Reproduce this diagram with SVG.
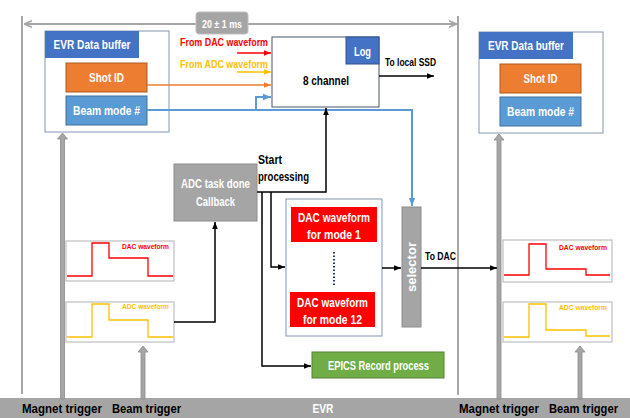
<svg xmlns="http://www.w3.org/2000/svg" width="630" height="418" viewBox="0 0 630 418">
<defs>
<style>
text{font-family:"Liberation Sans",Arial,sans-serif;font-weight:bold}
.w{fill:#fff;font-size:12px}
.k{fill:#000;font-size:12px}
.sm{font-size:7px}
.bl{fill:#4472c4}
.or{fill:#ed7d31;stroke:#ae5a21;stroke-width:1}
.lb{fill:#5b9bd5;stroke:#41719c;stroke-width:1}
.gr{fill:#a5a5a5;stroke:#8c8c8c;stroke-width:1}
.frame{fill:#fff;stroke:#8497b0;stroke-width:1}
.wf{fill:#fff;stroke:#bfbfbf;stroke-width:1.2}
.c{fill:none;stroke-width:1.5}
</style>
<marker id="mk" viewBox="0 0 10 10" refX="10" refY="5" markerWidth="7" markerHeight="7" markerUnits="userSpaceOnUse" orient="auto"><path d="M0,1 L10,5 L0,9 z" fill="#000"/></marker>
<marker id="mb" viewBox="0 0 10 10" refX="10" refY="5" markerWidth="8" markerHeight="8" markerUnits="userSpaceOnUse" orient="auto"><path d="M0,1 L10,5 L0,9 z" fill="#5b9bd5"/></marker>
<marker id="mr" viewBox="0 0 10 10" refX="10" refY="5" markerWidth="7" markerHeight="7" markerUnits="userSpaceOnUse" orient="auto"><path d="M0,1 L10,5 L0,9 z" fill="#ff0000"/></marker>
<marker id="my" viewBox="0 0 10 10" refX="10" refY="5" markerWidth="7" markerHeight="7" markerUnits="userSpaceOnUse" orient="auto"><path d="M0,1 L10,5 L0,9 z" fill="#ffc000"/></marker>
<marker id="mo" viewBox="0 0 10 10" refX="10" refY="5" markerWidth="7" markerHeight="7" markerUnits="userSpaceOnUse" orient="auto"><path d="M0,1 L10,5 L0,9 z" fill="#ed7d31"/></marker>
<marker id="mg" viewBox="0 0 10 10" refX="10" refY="5" markerWidth="8" markerHeight="8" markerUnits="userSpaceOnUse" orient="auto"><path d="M0,1 L10,5 L0,9" fill="none" stroke="#a6a6a6" stroke-width="2"/></marker>
</defs>
<rect width="630" height="418" fill="#fff"/>

<!-- frame lines -->
<g id="timeline">
<line x1="22" y1="16" x2="22" y2="394" stroke="#a6a6a6" stroke-width="2"/>
<line x1="458" y1="16" x2="458" y2="395" stroke="#a6a6a6" stroke-width="2"/>
<line x1="196" y1="24" x2="24" y2="24" stroke="#a6a6a6" stroke-width="2" marker-end="url(#mg)"/>
<line x1="248" y1="24" x2="457" y2="24" stroke="#a6a6a6" stroke-width="2" marker-end="url(#mg)"/>
</g>
<g id="period">
<rect x="196" y="12" width="52" height="22" rx="3" fill="#a5a5a5" stroke="#bfbfbf"/>
<text class="w" x="222" y="27.5" text-anchor="middle" textLength="40" lengthAdjust="spacingAndGlyphs" style="font-size:11px">20 ± 1 ms</text>
</g>

<!-- EVR bar -->
<g id="evr">
<rect x="0" y="398" width="630" height="20" fill="#a5a5a5"/>
<text class="w" x="323" y="413" text-anchor="middle" textLength="21" lengthAdjust="spacingAndGlyphs" style="font-size:12px">EVR</text>
<text class="k" x="22" y="413" textLength="80" lengthAdjust="spacingAndGlyphs">Magnet trigger</text>
<text class="k" x="112" y="413" textLength="69" lengthAdjust="spacingAndGlyphs">Beam trigger</text>
<text class="k" x="459" y="413" textLength="80" lengthAdjust="spacingAndGlyphs">Magnet trigger</text>
<text class="k" x="549" y="413" textLength="69" lengthAdjust="spacingAndGlyphs">Beam trigger</text>
</g>

<!-- trigger arrows -->
<g id="triggers" fill="#a6a6a6" stroke="#8c8c8c" stroke-width="0.8">
<path d="M60.5,399 V139 H57.5 L62.5,133 L67.5,139 H64.5 V399 z"/>
<path d="M141,399 V352 H138 L143,346 L148,352 H145 V399 z"/>
<path d="M497,399 V140 H494 L499,134 L504,140 H501 V399 z"/>
<path d="M578,399 V352 H575 L580,346 L585,352 H582 V399 z"/>
</g>

<!-- left EVR buffer -->
<g id="evr-buffer-left">
<rect class="frame" x="45" y="31" width="124" height="101"/>
<rect class="bl" x="45" y="31" width="94" height="27"/>
<text class="w" x="92" y="49" text-anchor="middle" textLength="77" lengthAdjust="spacingAndGlyphs">EVR Data buffer</text>
</g>
<g id="shot-id-left">
<rect class="or" x="66" y="63" width="81" height="29"/>
<text class="w" x="106.5" y="82" text-anchor="middle" textLength="35" lengthAdjust="spacingAndGlyphs">Shot ID</text>
</g>
<g id="beam-mode-left">
<rect class="lb" x="66" y="96" width="81" height="29"/>
<text class="w" x="106.5" y="115" text-anchor="middle" textLength="67" lengthAdjust="spacingAndGlyphs">Beam mode #</text>
</g>

<!-- right EVR buffer -->
<g id="evr-buffer-right">
<rect class="frame" x="479" y="32" width="124" height="101"/>
<rect class="bl" x="479" y="32" width="94" height="27"/>
<text class="w" x="526" y="50" text-anchor="middle" textLength="76" lengthAdjust="spacingAndGlyphs">EVR Data buffer</text>
</g>
<g id="shot-id-right">
<rect class="or" x="500" y="64" width="81" height="29"/>
<text class="w" x="540.5" y="83" text-anchor="middle" textLength="34" lengthAdjust="spacingAndGlyphs">Shot ID</text>
</g>
<g id="beam-mode-right">
<rect class="lb" x="500" y="97" width="81" height="29"/>
<text class="w" x="540.5" y="116" text-anchor="middle" textLength="67" lengthAdjust="spacingAndGlyphs">Beam mode #</text>
</g>

<!-- waveform boxes left -->
<g id="dac-wave-left">
<rect class="wf" x="66" y="241" width="108" height="40"/>
<polyline fill="none" stroke="#ff0000" stroke-width="1.3" points="67,276 92,276 92,243 109,243 109,258 148,258 148,276 173,276"/>
<text x="145.5" y="249" text-anchor="middle" class="sm" fill="#ff0000" textLength="47" lengthAdjust="spacingAndGlyphs">DAC waveform</text>
</g>
<g id="adc-wave-left">
<rect class="wf" x="66" y="302" width="108" height="40"/>
<polyline fill="none" stroke="#ffc000" stroke-width="1.3" points="67,337 92,337 92,304 109,304 109,320 148,320 148,337 173,337"/>
<text x="145.5" y="309" text-anchor="middle" class="sm" fill="#ffc000" textLength="47" lengthAdjust="spacingAndGlyphs">ADC waveform</text>
</g>

<!-- waveform boxes right -->
<g id="dac-wave-right">
<rect class="wf" x="503" y="240" width="109" height="42"/>
<polyline fill="none" stroke="#ff0000" stroke-width="1.3" points="504,275 529,275 529,244 546,244 546,269 586,269 586,275 610,275"/>
<text x="583" y="250" text-anchor="middle" class="sm" fill="#ff0000" textLength="48" lengthAdjust="spacingAndGlyphs">DAC waveform</text>
</g>
<g id="adc-wave-right">
<rect class="wf" x="503" y="302" width="109" height="40"/>
<polyline fill="none" stroke="#ffc000" stroke-width="1.3" points="504,337 529,337 529,304 546,304 546,330 586,330 586,336 610,336"/>
<text x="583" y="310" text-anchor="middle" class="sm" fill="#ffc000" textLength="48" lengthAdjust="spacingAndGlyphs">ADC waveform</text>
</g>

<!-- 8 channel log -->
<g id="log-8ch">
<rect x="272" y="37" width="107" height="70" fill="#fff" stroke="#44546a" stroke-width="1"/>
<rect class="bl" x="346" y="37" width="33" height="27" stroke="#2f528f" stroke-width="1"/>
<text class="w" x="362.5" y="56" text-anchor="middle" textLength="17" lengthAdjust="spacingAndGlyphs">Log</text>
<text class="k" x="326" y="85" text-anchor="middle" textLength="46" lengthAdjust="spacingAndGlyphs">8 channel</text>
</g>

<!-- ADC callback -->
<g id="adc-callback">
<rect class="gr" x="174" y="164" width="83" height="57"/>
<text class="w" x="215.5" y="188" text-anchor="middle" textLength="69" lengthAdjust="spacingAndGlyphs">ADC task done</text>
<text class="w" x="215.5" y="206" text-anchor="middle" textLength="39" lengthAdjust="spacingAndGlyphs">Callback</text>
</g>

<!-- DAC waveform table -->
<g id="dac-table">
<rect x="286" y="199" width="96" height="137" fill="#fff" stroke="#8497b0" stroke-width="1"/>
<line x1="334" y1="252" x2="334" y2="286" stroke="#1f3864" stroke-width="2" stroke-dasharray="1.5,2"/>
</g>
<g id="dac-mode-1">
<rect x="291" y="207" width="86" height="35" fill="#ff0000"/>
<text class="w" x="334" y="221.5" text-anchor="middle" textLength="72" lengthAdjust="spacingAndGlyphs">DAC waveform</text>
<text class="w" x="334" y="238.5" text-anchor="middle" textLength="54" lengthAdjust="spacingAndGlyphs">for mode 1</text>
</g>
<g id="dac-mode-12">
<rect x="290" y="292" width="85" height="35" fill="#ff0000"/>
<text class="w" x="332.5" y="306.5" text-anchor="middle" textLength="71" lengthAdjust="spacingAndGlyphs">DAC waveform</text>
<text class="w" x="332.5" y="323.5" text-anchor="middle" textLength="59" lengthAdjust="spacingAndGlyphs">for mode 12</text>
</g>

<!-- selector -->
<g id="selector">
<rect class="gr" x="402" y="207" width="19" height="120"/>
<text class="w" transform="translate(415.5,267) rotate(-90)" x="0" y="0" text-anchor="middle" textLength="50" lengthAdjust="spacingAndGlyphs">selector</text>
</g>

<!-- EPICS -->
<g id="epics">
<rect x="312" y="352" width="132" height="26" fill="#70ad47" stroke="#548235" stroke-width="1"/>
<text class="w" x="378.5" y="370" text-anchor="middle" textLength="101" lengthAdjust="spacingAndGlyphs">EPICS Record process</text>
</g>

<!-- labels -->
<g id="labels">
<text x="180" y="46" fill="#ff0000" style="font-size:11px" textLength="88" lengthAdjust="spacingAndGlyphs">From DAC waveform</text>
<text x="180" y="68" fill="#ffc000" style="font-size:11px" textLength="88" lengthAdjust="spacingAndGlyphs">From ADC waveform</text>
<text class="k" x="385" y="66" style="font-size:11px" textLength="51" lengthAdjust="spacingAndGlyphs">To local SSD</text>
<text class="k" x="258" y="164" textLength="24" lengthAdjust="spacingAndGlyphs">Start</text>
<text class="k" x="258" y="181" textLength="51" lengthAdjust="spacingAndGlyphs">processing</text>
<text class="k" x="425" y="260" style="font-size:11px" textLength="31" lengthAdjust="spacingAndGlyphs">To DAC</text>
</g>

<!-- connectors -->
<g id="connectors">
<path class="c" d="M237,53 H271" stroke="#ff0000" marker-end="url(#mr)"/>
<path class="c" d="M237,72 H271" stroke="#ffc000" marker-end="url(#my)"/>
<path class="c" d="M147,85 H271" stroke="#ed7d31" marker-end="url(#mo)"/>
<path d="M147,110 H412 V206" fill="none" stroke="#5b9bd5" stroke-width="2" marker-end="url(#mb)"/>
<path d="M256,110 V97 H271" fill="none" stroke="#5b9bd5" stroke-width="2" marker-end="url(#mb)"/>
<path class="c" d="M379,76 H434" stroke="#000" marker-end="url(#mk)"/>
<path class="c" d="M174,322 H215 V222" stroke="#000" marker-end="url(#mk)"/>
<path class="c" d="M257,192 H326 V108" stroke="#000" marker-end="url(#mk)"/>
<path class="c" d="M271,192 V267 H285" stroke="#000" marker-end="url(#mk)"/>
<path class="c" d="M262,192 V366 H311" stroke="#000" marker-end="url(#mk)"/>
<path class="c" d="M382,268 H401" stroke="#000" marker-end="url(#mk)"/>
<path class="c" d="M421,268 H497" stroke="#000" marker-end="url(#mk)"/>
</g>
</svg>
